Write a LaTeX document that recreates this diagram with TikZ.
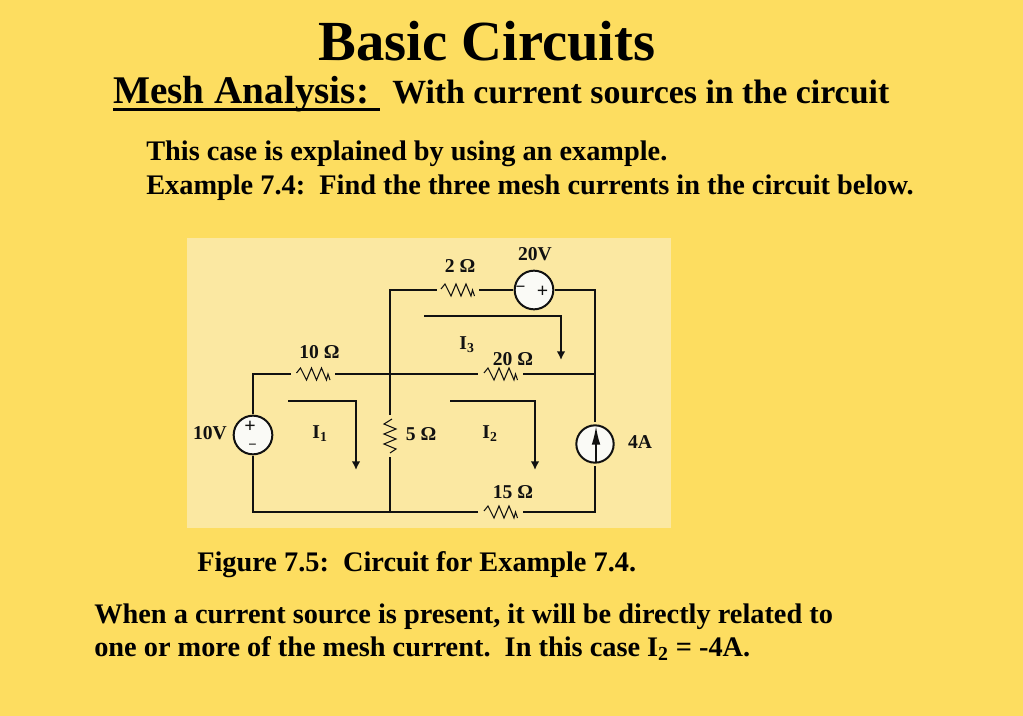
\documentclass[tikz,border=0pt]{standalone}
\usepackage{fontspec}
\usetikzlibrary{arrows.meta}
\setmainfont{Liberation Serif}
\definecolor{slidebg}{HTML}{FDDD60}
\definecolor{panelbg}{HTML}{FBE8A2}
\definecolor{srcfill}{HTML}{FAFAF6}
\definecolor{ink}{HTML}{111111}
\tikzset{
  x=0.75pt,y=-0.75pt,
  titletxt/.style={anchor=base west,inner sep=0,text=black,font=\fontsize{42.5}{42.5}\selectfont\bfseries},
  headtxt/.style={anchor=base west,inner sep=0,text=black,font=\fontsize{29.4}{29.4}\selectfont\bfseries},
  subtxt/.style={anchor=base west,inner sep=0,text=black,font=\fontsize{25.4}{25.4}\selectfont\bfseries},
  bodytxt/.style={anchor=base west,inner sep=0,text=black,font=\fontsize{21.25}{21.25}\selectfont\bfseries},
  lbl/.style={inner sep=0,text=ink,font=\fontsize{14.7}{14.7}\selectfont\bfseries},
  signtxt/.style={inner sep=0,text=ink,font=\fontsize{15}{15}\selectfont\bfseries},
  wire/.style={draw=ink,line width=1.6pt},
  loopcur/.style={draw=ink,line width=1.5pt,-{Latex[length=6.5pt,width=6.5pt]}},
  src/.style={circle,draw=ink,line width=1.5pt,fill=srcfill,minimum size=29pt,inner sep=0,outer sep=1pt},
  resh/.pic={\draw[ink,line width=0.8pt,line join=miter]
    (-17,-1)--(-13,-6)--(-7,6)--(-2,-6)--(3,6)--(8,-6)--(13,6)--(14.5,0)--(16.5,6);},
  resv/.pic={\draw[ink,line width=0.8pt,line join=miter]
    (2,-17)--(-6,-12)--(6,-7)--(-6,-2)--(6,3)--(-6,8)--(6,13)--(0,17);}
}
\begin{document}
\begin{tikzpicture}
\useasboundingbox (0,0) rectangle (1023,716);
\fill[slidebg] (0,0) rectangle (1023,716);
\fill[panelbg] (187,238) rectangle (671,528);

\node[titletxt] (title) at (318,61) {Basic Circuits};
\node[headtxt] (mesh) at (113,104) {Mesh Analysis:};
\coordinate (ulA) at (113,109.5);
\coordinate (ulB) at (380,109.5);
\draw[draw=black,line width=2.2pt] (ulA) -- (ulB);
\node[subtxt] (withsrc) at (392,104) {With current sources in the circuit};
\node[bodytxt] (line1) at (146,161) {This case is explained by using an example.};
\node[bodytxt] (line2) at (146,195) {Example 7.4:\ \ Find the three mesh currents in the circuit below.};
\node[bodytxt] (figcap) at (197,571) {Figure 7.5:\ \ Circuit for Example 7.4.};
\node[bodytxt] (line3) at (94,623) {When a current source is present, it will be directly related to};
\node[bodytxt] (line4) at (94,656.5) {one or more of the mesh current.\ \ In this case I\textsubscript{2} = -4A.};

% corners and junctions
\coordinate (tl) at (253,374);
\coordinate (bl) at (253,512);
\coordinate (tm) at (390,290);
\coordinate (jt) at (390,374);
\coordinate (jb) at (390,512);
\coordinate (tr) at (595,290);
\coordinate (jr) at (595,374);
\coordinate (br) at (595,512);

% resistor leads
\coordinate (r10a) at (291,374);
\coordinate (r10b) at (335,374);
\coordinate (r5a) at (390,415);
\coordinate (r5b) at (390,457);
\coordinate (r2a) at (437,290);
\coordinate (r2b) at (479,290);
\coordinate (r20a) at (478,374);
\coordinate (r20b) at (523,374);
\coordinate (r15a) at (478,512);
\coordinate (r15b) at (523,512);

\node[src] (v10) at (253,435) {};
\node[src] (v20) at (534,290) {};
\node[src,minimum size=28pt,outer sep=2.5pt] (i4) at (595,444) {};

\draw[wire] (v10.north) -- (tl) -- (r10a);
\draw[wire] (r10b) -- (jt) -- (r20a);
\draw[wire] (r20b) -- (jr);
\draw[wire] (r5a) -- (jt) -- (tm) -- (r2a);
\draw[wire] (r2b) -- (v20.west);
\draw[wire] (v20.east) -- (tr) -- (jr) -- (i4.north);
\draw[wire] (i4.south) -- (br) -- (r15b);
\draw[wire] (r15a) -- (bl) -- (v10.south);
\draw[wire] (r5b) -- (jb);

\pic at (313.5,374) {resh};
\pic at (458,290) {resh};
\pic at (501,374) {resh};
\pic at (501,512) {resh};
\pic at (390,436) {resv};

% signs in the sources
\node[signtxt] (p10) at (250,426.5) {+};
\node[signtxt] (m10) at (252.5,447) {\fontsize{11}{11}\selectfont −};
\node[signtxt] (m20) at (520.5,289) {\fontsize{13}{13}\selectfont −};
\node[signtxt] (p20) at (542.5,291.5) {+};
\coordinate (ia) at (596,462);
\coordinate (ib) at (596,426);
\draw[draw=ink,line width=1.4pt,-{Latex[length=14pt,width=6.5pt]}] (ia) -- (ib);

% mesh currents
\coordinate (c1a) at (288,401);
\coordinate (c1b) at (356,401);
\coordinate (c1c) at (356,470);
\coordinate (c2a) at (450,401);
\coordinate (c2b) at (535,401);
\coordinate (c2c) at (535,470);
\coordinate (c3a) at (424,316);
\coordinate (c3b) at (561,316);
\coordinate (c3c) at (561,360);
\draw[loopcur] (c1a) -- (c1b) -- (c1c);
\draw[loopcur] (c2a) -- (c2b) -- (c2c);
\draw[loopcur] (c3a) -- (c3b) -- (c3c);

\node[lbl] (l10v) at (210,433) {10V};
\node[lbl] (l10r) at (319.5,352) {10 Ω};
\node[lbl] (l5r) at (421,434.5) {5 Ω};
\node[lbl] (l2r) at (460,266) {2 Ω};
\node[lbl] (l20v) at (535,254) {20V};
\node[lbl] (l20r) at (513,359) {20 Ω};
\node[lbl] (l15r) at (513,492) {15 Ω};
\node[lbl] (l4a) at (640,442) {4A};
\node[lbl] (li1) at (320,434) {I\textsubscript{1}};
\node[lbl] (li2) at (490,434) {I\textsubscript{2}};
\node[lbl] (li3) at (467,345) {I\textsubscript{3}};
\end{tikzpicture}
\end{document}
